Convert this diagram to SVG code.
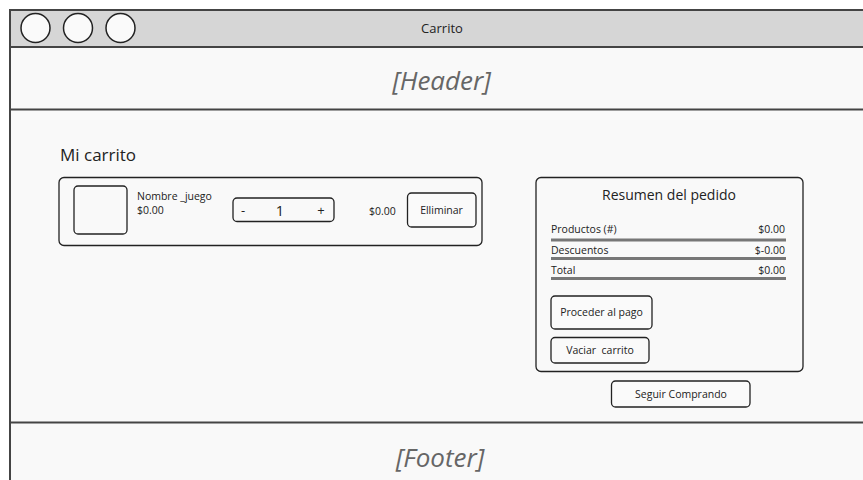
<svg xmlns="http://www.w3.org/2000/svg" width="863" height="480" viewBox="0 0 863 480">
  <style>
    text { font-family: "Open Sans", "Liberation Sans", sans-serif; fill: #222; }
    .frame { fill: #f9f9f9; stroke: #444; stroke-width: 2; }
    .bar { fill: #d6d6d6; stroke: #444; stroke-width: 2; }
    .sep { stroke: #444; stroke-width: 2; fill: none; }
    .dot { fill: #fafafa; stroke: #222; stroke-width: 1.5; }
    .box { fill: none; stroke: #222; stroke-width: 1.3; }
    .btn { fill: #fafafa; stroke: #222; stroke-width: 1.3; }
    .rule { stroke: #777; stroke-width: 3; }
    .ph { font-style: italic; fill: #666; font-size: 26px; text-anchor: middle; }
    .sm { font-size: 10.5px; }
    .mid { text-anchor: middle; }
    .end { text-anchor: end; }
  </style>

  <rect width="863" height="480" fill="#ffffff"/>

  <!-- browser window -->
  <g id="window">
    <rect class="frame" x="10" y="10" width="870" height="490"/>
    <rect class="bar" x="10" y="10" width="870" height="37"/>
    <circle class="dot" cx="35.5" cy="28" r="14.5"/>
    <circle class="dot" cx="78" cy="28" r="14.5"/>
    <circle class="dot" cx="120.5" cy="28" r="14.5"/>
    <text x="442" y="33" class="mid" font-size="13">Carrito</text>
  </g>

  <g id="header">
    <line class="sep" x1="10" y1="109.5" x2="880" y2="109.5"/>
    <text x="441.5" y="90" class="ph">[Header]</text>
  </g>

  <g id="footer">
    <line class="sep" x1="10" y1="422.5" x2="880" y2="422.5"/>
    <text x="440" y="467" class="ph">[Footer]</text>
  </g>

  <g id="title">
    <text x="60" y="161" font-size="17">Mi carrito</text>
  </g>

  <!-- cart item row -->
  <g id="cart-item">
    <rect class="box" x="59" y="177.5" width="423" height="68" rx="5"/>
    <rect class="box" x="74" y="186" width="53" height="48" rx="4"/>
    <text x="137" y="200" class="sm">Nombre _juego</text>
    <text x="137" y="214" class="sm">$0.00</text>
    <g id="qty">
      <rect class="box" x="233" y="198" width="101" height="23.5" rx="4"/>
      <text x="243" y="215" font-size="13" class="mid">-</text>
      <text x="280" y="215.5" font-size="14.5" class="mid">1</text>
      <text x="321" y="215" font-size="13" class="mid">+</text>
    </g>
    <text x="369" y="215" class="sm">$0.00</text>
    <g id="btn-eliminar">
      <rect class="btn" x="407.5" y="193" width="68.5" height="34" rx="4"/>
      <text x="441.5" y="214" class="sm mid">Elliminar</text>
    </g>
  </g>

  <!-- order summary -->
  <g id="summary">
    <rect class="box" x="536" y="177.5" width="267" height="194" rx="5"/>
    <text x="669" y="200" font-size="14" class="mid">Resumen del pedido</text>
    <text x="551" y="233" class="sm">Productos (#)</text>
    <text x="785" y="233" class="sm end">$0.00</text>
    <line class="rule" x1="551" y1="240" x2="786" y2="240"/>
    <text x="551" y="254" class="sm">Descuentos</text>
    <text x="785" y="254" class="sm end">$-0.00</text>
    <line class="rule" x1="551" y1="258.5" x2="786" y2="258.5"/>
    <text x="551" y="274" class="sm">Total</text>
    <text x="785" y="274" class="sm end">$0.00</text>
    <line class="rule" x1="551" y1="278.5" x2="786" y2="278.5"/>
  </g>

  <g id="btn-pago">
    <rect class="btn" x="551" y="296" width="101" height="33" rx="4"/>
    <text x="601.5" y="316" class="sm mid">Proceder al pago</text>
  </g>

  <g id="btn-vaciar">
    <rect class="btn" x="551" y="337.5" width="98" height="25.5" rx="4"/>
    <text x="600" y="354" class="sm mid">Vaciar&#160; carrito</text>
  </g>

  <g id="btn-seguir">
    <rect class="btn" x="611.5" y="381" width="138.5" height="26" rx="4"/>
    <text x="681" y="398" class="sm mid">Seguir Comprando</text>
  </g>
</svg>
